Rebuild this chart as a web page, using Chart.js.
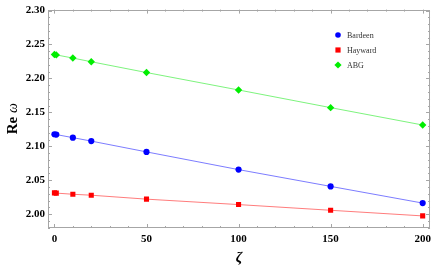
<!DOCTYPE html>
<html>
<head>
<meta charset="utf-8">
<script src="https://cdn.jsdelivr.net/npm/chart.js@4/dist/chart.umd.min.js"></script>
<style>
html,body{margin:0;padding:0;background:#fff;}
canvas{display:block;}
</style>
</head>
<body>
<canvas id="c" width="436" height="267"></canvas>
<script>
// Data
const zeta    = [0, 1, 10, 20, 50, 100, 150, 200];
const bardeen = [2.1178, 2.1173, 2.1128, 2.1077, 2.0918, 2.0657, 2.0410, 2.0164];
const hayward = [2.0314, 2.0311, 2.0294, 2.0280, 2.0222, 2.0142, 2.0058, 1.9975];
const abg     = [2.2352, 2.2347, 2.2300, 2.2246, 2.2087, 2.1830, 2.1570, 2.1314];
const seriesLabels = ["Bardeen", "Hayward", "ABG"];
const xTicks = [0, 50, 100, 150, 200];
const yTicks = [2.00, 2.05, 2.10, 2.15, 2.20, 2.25, 2.30];
const xMinorStep = 10;

const colors = ["#0000ff", "#ff0000", "#00ee00"];
const lineColors = ["#5a5aff", "#ff5a5a", "#5cf05c"];
const styles = ["circle", "rect", "rectRot"];
const radii = [3.1, 3.6, 3.7];
const allSeries = [bardeen, hayward, abg];

const datasets = allSeries.map((s, i) => ({
  label: seriesLabels[i],
  data: zeta.map((z, j) => ({x: z, y: s[j]})),
  showLine: true,
  borderColor: lineColors[i],
  borderWidth: 0.8,
  backgroundColor: colors[i],
  pointBackgroundColor: colors[i],
  pointBorderColor: colors[i],
  pointBorderWidth: 0,
  pointStyle: styles[i],
  pointRadius: radii[i],
  tension: 0
}));

const FRAME = "#a6a6a6";
const framePlugin = {
  id: "frame",
  afterDraw(chart) {
    const ctx = chart.ctx;
    const a = chart.chartArea;
    const xs = chart.scales.x, ys = chart.scales.y;
    ctx.save();
    ctx.strokeStyle = FRAME;
    ctx.lineWidth = 1;
    ctx.strokeRect(Math.round(a.left) + 0.5, Math.round(a.top) + 0.5,
                   Math.round(a.right - a.left) - 1, Math.round(a.bottom - a.top) - 1);
    ctx.beginPath();
    for (let v = 0; v <= 200 + 1e-9; v += xMinorStep) {
      const major = xTicks.some(t => Math.abs(t - v) < 1e-6);
      const L = major ? 4 : 2;
      const px = Math.round(xs.getPixelForValue(v)) + 0.5;
      ctx.moveTo(px, a.bottom); ctx.lineTo(px, a.bottom - L);
      ctx.moveTo(px, a.top); ctx.lineTo(px, a.top + L);
    }
    for (let k = 198; k <= 230; k++) {
      const v = k / 100;
      const major = yTicks.some(t => Math.abs(t - v) < 1e-6);
      const L = major ? 4 : 2;
      const py = Math.round(ys.getPixelForValue(v)) + 0.5;
      ctx.moveTo(a.left, py); ctx.lineTo(a.left + L, py);
      ctx.moveTo(a.right, py); ctx.lineTo(a.right - L, py);
    }
    ctx.stroke();

    // legend
    const lx = 338, ly0 = 35, dy = 15;
    datasets.forEach((d, i) => {
      const y = ly0 + i * dy;
      ctx.fillStyle = colors[i];
      ctx.beginPath();
      if (styles[i] === "circle") {
        ctx.arc(lx, y, 2.8, 0, Math.PI * 2);
      } else if (styles[i] === "rect") {
        ctx.rect(lx - 2.6, y - 2.6, 5.2, 5.2);
      } else {
        ctx.moveTo(lx - 3.6, y); ctx.lineTo(lx, y - 3.6);
        ctx.lineTo(lx + 3.6, y); ctx.lineTo(lx, y + 3.6); ctx.closePath();
      }
      ctx.fill();
      ctx.fillStyle = "#333";
      ctx.font = "8px 'Liberation Serif', serif";
      ctx.textBaseline = "middle";
      ctx.textAlign = "left";
      ctx.fillText(d.label, lx + 9, y + 0.5);
    });

    // axis titles
    ctx.fillStyle = "#000";
    ctx.textBaseline = "alphabetic";
    ctx.font = "italic bold 15px 'Liberation Serif', serif";
    ctx.textAlign = "center";
    ctx.fillText("\u03b6", (a.left + a.right) / 2, 262);
    ctx.translate(17, (a.top + a.bottom) / 2);
    ctx.rotate(-Math.PI / 2);
    const f1 = "bold 15px 'Liberation Serif', serif";
    const f2 = "italic 14px 'Liberation Serif', serif";
    ctx.font = f1; const w1 = ctx.measureText("Re ").width;
    ctx.font = f2; const w2 = ctx.measureText("\u03c9").width;
    const x0 = -(w1 + w2) / 2;
    ctx.textAlign = "left";
    ctx.font = f1; ctx.fillText("Re ", x0, 0);
    ctx.font = f2; ctx.fillText("\u03c9", x0 + w1, 0);
    ctx.restore();
  }
};

const tickFont = {family: "'Liberation Serif', serif", size: 11, weight: "bold"};

new Chart(document.getElementById("c"), {
  type: "scatter",
  data: {datasets},
  options: {
    responsive: false,
    devicePixelRatio: 1,
    animation: false,
    layout: {padding: {top: 6, right: 4, left: 0, bottom: 0}},
    plugins: {legend: {display: false}, tooltip: {enabled: false}},
    scales: {
      x: {
        type: "linear",
        min: -3.5,
        max: 204,
        afterBuildTicks: s => { s.ticks = xTicks.map(v => ({value: v})); },
        afterFit: s => { s.height = 39; },
        grid: {display: false, drawTicks: false},
        border: {display: false},
        ticks: {font: tickFont, color: "#000", padding: 5, maxRotation: 0, autoSkip: false}
      },
      y: {
        type: "linear",
        min: 1.9797,
        max: 2.3014,
        afterBuildTicks: s => { s.ticks = yTicks.map(v => ({value: v})); },
        afterFit: s => { s.width = 48; },
        grid: {display: false, drawTicks: false},
        border: {display: false},
        ticks: {font: tickFont, color: "#000", padding: 3, autoSkip: false,
                callback: v => Number(v).toFixed(2)}
      }
    }
  },
  plugins: [framePlugin]
});
</script>
</body>
</html>
